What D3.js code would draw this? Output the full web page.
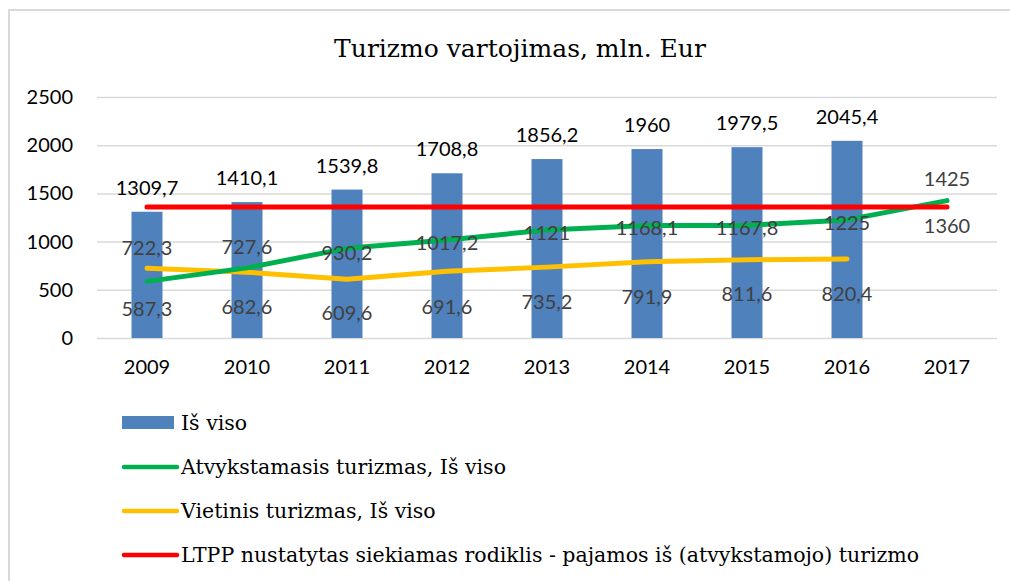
<!DOCTYPE html>
<html>
<head>
<meta charset="utf-8">
<script src="https://cdn.jsdelivr.net/npm/d3@7/dist/d3.min.js"></script>
<style>
  body { margin: 0; background: #fff; }
  svg { display: block; }
</style>
</head>
<body>
<svg></svg>
<script>
// data
const years = ['2009', '2010', '2011', '2012', '2013', '2014', '2015', '2016', '2017']
const total = [1309.7, 1410.1, 1539.8, 1708.8, 1856.2, 1960, 1979.5, 2045.4, null]
const inbound = [587.3, 727.6, 930.2, 1017.2, 1121, 1168.1, 1167.8, 1225, 1425]
const domestic = [722.3, 682.6, 609.6, 691.6, 735.2, 791.9, 811.6, 820.4, null]
const target = [1360, 1360, 1360, 1360, 1360, 1360, 1360, 1360, 1360]
const yTicks = [0, 500, 1000, 1500, 2000, 2500]

const title = 'Turizmo vartojimas, mln. Eur'
const legendNames = [
    'Iš viso',
    'Atvykstamasis turizmas, Iš viso',
    'Vietinis turizmas, Iš viso',
    'LTPP nustatytas siekiamas rodiklis - pajamos iš (atvykstamojo) turizmo'
]

// where each data label sits relative to its point (px), like the original
const inboundLabelDy = [27, -21, 4, 3, 3, 2, 2, 3, -22]
const domesticLabelDy = [-21, 35, 34, 35, 35, 35, 34, 35, 0]
const targetLabelDy = [null, null, null, null, null, null, null, null, 19]

const width = 1010
const height = 581
const plotLeft = 97
const plotRight = 997
const plotTop = 97
const plotBottom = 338

const blue = '#4f81bd'
const green = '#00b050'
const yellow = '#ffc000'
const red = '#ff0000'
const numFont = 'Lato, "Open Sans", sans-serif'
const serifFont = '"DejaVu Serif", serif'

const svg = d3.select('svg')
    .attr('width', width)
    .attr('height', height)

// chart frame (only top and left edges show)
svg.append('path')
    .attr('d', 'M9,' + height + 'V10H' + width)
    .attr('fill', 'none')
    .attr('stroke', '#d9d9d9')
    .attr('stroke-width', 2)

svg.append('text')
    .attr('x', 520)
    .attr('y', 57)
    .attr('text-anchor', 'middle')
    .style('font-family', serifFont)
    .style('font-size', '25px')
    .attr('fill', '#000')
    .text(title)

let xScale = d3.scaleBand()
    .domain(years)
    .range([plotLeft, plotRight])

let yScale = d3.scaleLinear()
    .domain([0, 2500])
    .range([plotBottom, plotTop])

let cx = (i) => xScale(years[i]) + xScale.bandwidth() / 2

// gridlines + y labels
let yAxis = d3.axisLeft(yScale)
    .tickValues(yTicks)
    .tickSize(-(plotRight - plotLeft))
    .tickPadding(24)
    .tickFormat(d3.format('d'))

svg.append('g')
    .attr('transform', 'translate(' + plotLeft + ',0)')
    .call(yAxis)
    .call(g => g.select('.domain').remove())
    .call(g => g.selectAll('line').attr('stroke', '#d9d9d9').attr('stroke-width', 1.5))
    .call(g => g.selectAll('text')
        .style('font-family', numFont)
        .style('font-size', '20px')
        .attr('fill', '#000'))

let xAxis = d3.axisBottom(xScale)
    .tickSize(0)
    .tickPadding(22)

svg.append('g')
    .attr('transform', 'translate(0,' + plotBottom + ')')
    .call(xAxis)
    .call(g => g.select('.domain').remove())
    .call(g => g.selectAll('text')
        .style('font-family', numFont)
        .style('font-size', '20px')
        .attr('fill', '#000'))

// bars
let barW = xScale.bandwidth() * 0.31
let barData = years.map((y, i) => ({ year: y, value: total[i] })).filter(d => d.value != null)

svg.selectAll('rect.bar')
    .data(barData)
    .enter()
    .append('rect')
    .attr('class', 'bar')
    .attr('x', d => xScale(d.year) + (xScale.bandwidth() - barW) / 2)
    .attr('y', d => yScale(d.value))
    .attr('width', barW)
    .attr('height', d => plotBottom - yScale(d.value))
    .attr('fill', blue)

// lines
let drawLine = (values, color) => {
    let line = d3.line()
        .defined(d => d != null)
        .x((d, i) => cx(i))
        .y(d => yScale(d))
    svg.append('path')
        .datum(values)
        .attr('d', line)
        .attr('fill', 'none')
        .attr('stroke', color)
        .attr('stroke-width', 5)
        .attr('stroke-linecap', 'round')
        .attr('stroke-linejoin', 'round')
}

drawLine(domestic, yellow)
drawLine(inbound, green)
drawLine(target, red)

// data labels
let fmt = (v) => String(v).replace('.', ',')

let drawLabels = (values, dys, color) => {
    values.forEach((v, i) => {
        if (v == null || dys[i] == null) return
        svg.append('text')
            .attr('x', cx(i))
            .attr('y', yScale(v) + dys[i])
            .attr('dy', '0.36em')
            .attr('text-anchor', 'middle')
            .style('font-family', numFont)
            .style('font-size', '20px')
            .attr('fill', color)
            .text(fmt(v))
    })
}

drawLabels(total, total.map(() => -24), '#000')
drawLabels(inbound, inboundLabelDy, '#404040')
drawLabels(domestic, domesticLabelDy, '#404040')
drawLabels(target, targetLabelDy, '#404040')

// legend
let legendColors = [blue, green, yellow, red]
let legend = svg.selectAll('g.legend')
    .data(legendNames)
    .enter()
    .append('g')
    .attr('class', 'legend')
    .attr('transform', (d, i) => 'translate(0,' + (423 + i * 44) + ')')

legend.each(function (d, i) {
    let g = d3.select(this)
    if (i == 0) {
        g.append('rect')
            .attr('x', 122)
            .attr('y', -7)
            .attr('width', 52)
            .attr('height', 13)
            .attr('fill', blue)
    } else {
        g.append('line')
            .attr('x1', 124)
            .attr('x2', 177)
            .attr('y1', 0)
            .attr('y2', 0)
            .attr('stroke', legendColors[i])
            .attr('stroke-width', 4.5)
            .attr('stroke-linecap', 'round')
    }
    g.append('text')
        .attr('x', 181)
        .attr('y', 7)
        .style('font-family', serifFont)
        .style('font-size', '20.5px')
        .attr('fill', '#000')
        .text(d)
})
</script>
</body>
</html>
